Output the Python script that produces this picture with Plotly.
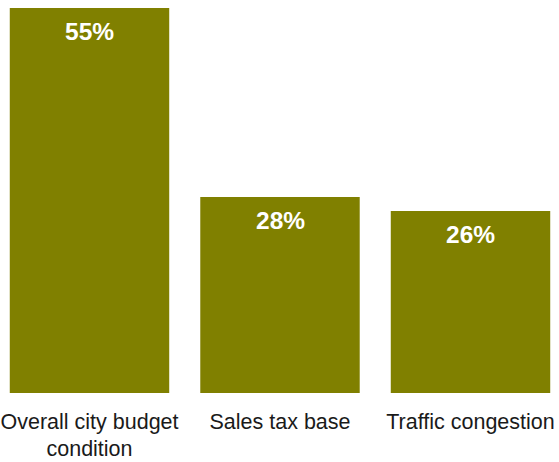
import plotly.graph_objects as go

categories = ["Overall city budget<br>condition", "Sales tax base", "Traffic congestion"]
values = [55, 28, 26]
labels = ["55%", "28%", "26%"]

xpos = list(range(len(categories)))
color = "#808000"
FONT = "Liberation Sans, Arial, sans-serif"

fig = go.Figure()
fig.add_trace(go.Bar(
    x=xpos, y=values, marker=dict(color=color, line=dict(width=0)),
    width=0.837, hoverinfo="skip",
))

for xi, v, t in zip(xpos, values, labels):
    fig.add_annotation(x=xi, y=v, xref="x", yref="y", text="<b>%s</b>" % t,
                       showarrow=False, yanchor="top", yshift=-8,
                       font=dict(family=FONT, size=24.5, color="white"))

fig.update_layout(
    width=559, height=462,
    margin=dict(l=0, r=0, t=8, b=69, autoexpand=False),
    paper_bgcolor="white", plot_bgcolor="white",
    showlegend=False,
    xaxis=dict(range=[-0.4698, 2.4646], tickvals=xpos, ticktext=categories,
               showgrid=False, zeroline=False, showline=False, ticks="",
               automargin=False,
               ticklabelstandoff=13, ticklabeloverflow="allow",
               tickfont=dict(family=FONT, size=21.5, color="#1a1a1a")),
    yaxis=dict(range=[0, 55], visible=False, showgrid=False, zeroline=False,
               automargin=False),
)

fig.write_html("out.html", config={"displayModeBar": False},
               post_script="document.body.style.margin='0px';document.body.style.overflow='hidden';")
